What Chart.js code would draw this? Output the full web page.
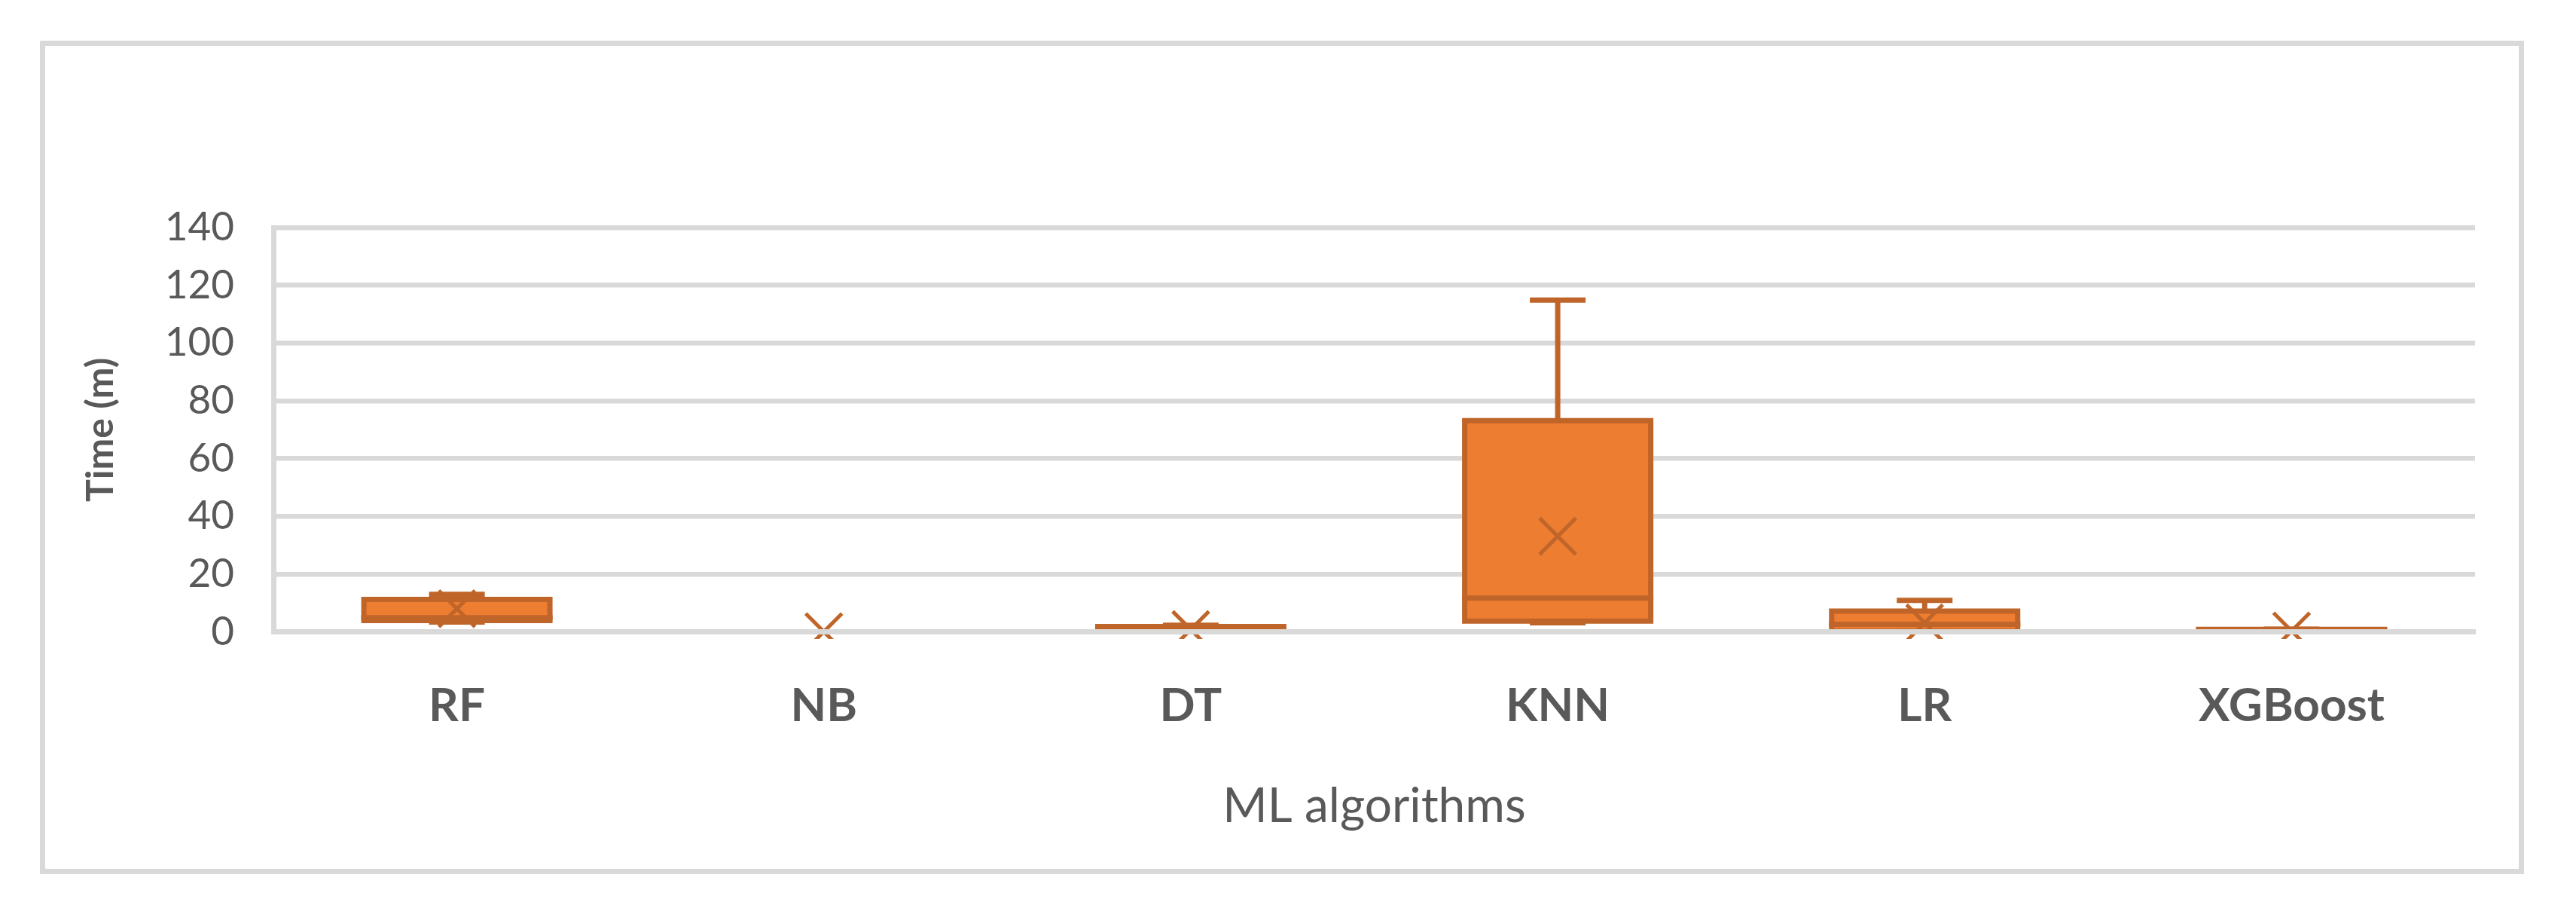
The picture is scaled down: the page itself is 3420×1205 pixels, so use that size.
<!DOCTYPE html>
<html>
<head>
<meta charset="utf-8">
<script src="https://cdn.jsdelivr.net/npm/chart.js@4.4.1/dist/chart.umd.min.js"></script>
<style>
  html, body { margin: 0; padding: 0; background: #ffffff; }
  #wrap { position: relative; width: 3420px; height: 1205px; }
  #c { position: absolute; left: 0; top: 0; }
  #frame { position: absolute; left: 53px; top: 54px; width: 3298px; height: 1106px;
           box-sizing: border-box; border: 7px solid #D9D9D9; pointer-events: none; }
</style>
</head>
<body>
<div id="wrap">
  <canvas id="c" width="3420" height="1205"></canvas>
  <div id="frame"></div>
</div>
<script>
// ---- data ----
const categories = ['RF', 'NB', 'DT', 'KNN', 'LR', 'XGBoost'];
const minVals    = [3.4, 0.0, 0.1, 3.1, 0.1, 0.05];
const q1Vals     = [3.9, 0.01, 0.2, 3.7, 0.2, 0.1];
const medianVals = [4.9, 0.01, 0.4, 11.7, 2.6, 0.2];
const q3Vals     = [11.2, 0.02, 1.8, 73.1, 7.2, 0.85];
const maxVals    = [13.0, 0.03, 2.3, 114.9, 10.9, 0.9];
const meanVals   = [8.0, 0.05, 0.8, 33.1, 3.1, 0.3];
const yTicks     = [0, 20, 40, 60, 80, 100, 120, 140];
const xTitle = 'ML algorithms';
const yTitle = 'Time (m)';

// ---- styles ----
const FILL = '#ED7D31';
const DARK = '#C0652A';
const GRID = '#D9D9D9';
const TEXT = '#595959';
const STROKE = 7;      // box outline / whisker thickness
const BOX_W = 247;     // box width between outline centres

const boxRanges = categories.map((_, i) => [q1Vals[i], q3Vals[i]]);
const whiskerRanges = categories.map((_, i) => [minVals[i], maxVals[i]]);

function shrinkToFit(ctx) {
  const r = ctx.raw;
  if (!r || !ctx.chart.scales.y) return -STROKE / 2;
  const y = ctx.chart.scales.y;
  const h = Math.abs(y.getPixelForValue(r[0]) - y.getPixelForValue(r[1]));
  return -Math.min(STROKE / 2, h / 2);
}

new Chart(document.getElementById('c'), {
  type: 'bar',
  data: {
    labels: categories,
    datasets: [
      { // whisker line
        type: 'bar', data: whiskerRanges, grouped: false, barThickness: STROKE,
        backgroundColor: DARK, borderWidth: 0, inflateAmount: 0, order: 7
      },
      { // box outline (centred stroke)
        type: 'bar', data: boxRanges, grouped: false, barThickness: BOX_W,
        backgroundColor: DARK, borderWidth: 0, inflateAmount: STROKE / 2, order: 6
      },
      { // box fill
        type: 'bar', data: boxRanges, grouped: false, barThickness: BOX_W,
        backgroundColor: FILL, borderWidth: 0, inflateAmount: shrinkToFit, order: 5
      },
      { // median
        type: 'line', data: medianVals, showLine: false, order: 4, clip: false,
        pointStyle: 'line', pointRadius: (BOX_W + STROKE) / 2, pointBorderWidth: STROKE,
        pointBorderColor: DARK, pointBackgroundColor: DARK
      },
      { // max cap
        type: 'line', data: maxVals, showLine: false, order: 3, clip: false,
        pointStyle: 'line', pointRadius: 37, pointBorderWidth: STROKE,
        pointBorderColor: DARK, pointBackgroundColor: DARK
      },
      { // min cap
        type: 'line', data: minVals, showLine: false, order: 3, clip: false,
        pointStyle: 'line', pointRadius: 37, pointBorderWidth: STROKE,
        pointBorderColor: DARK, pointBackgroundColor: DARK
      },
      { // mean marker
        type: 'line', data: meanVals, showLine: false, order: 2,
        clip: { left: 300, right: 300, top: 100, bottom: 9.5 },
        pointStyle: 'crossRot', pointRadius: 34, pointBorderWidth: 5,
        pointBorderColor: DARK, pointBackgroundColor: DARK
      }
    ]
  },
  options: {
    responsive: false,
    devicePixelRatio: 1,
    animation: false,
    events: [],
    layout: { padding: { left: 80, top: 302, right: 124, bottom: 0 } },
    plugins: { legend: { display: false }, tooltip: { enabled: false } },
    scales: {
      x: {
        offset: true,
        grid: { display: false, drawTicks: false },
        border: { display: true, color: GRID, width: 7, z: 1 },
        ticks: {
          color: TEXT, padding: 61, maxRotation: 0, autoSkip: false,
          font: { family: 'Lato', size: 62, weight: 'bold' }
        },
        title: {
          display: true, text: xTitle, color: TEXT,
          font: { family: 'Lato', size: 64, weight: 'normal' },
          padding: { top: 0, bottom: 96 }
        },
        afterFit: (s) => { s.height = 366.5; }
      },
      y: {
        min: 0, max: 140,
        afterBuildTicks: (s) => { s.ticks = yTicks.map(v => ({ value: v })); },
        grid: { color: GRID, lineWidth: 6.5, drawTicks: false },
        border: { display: true, color: GRID, width: 7 },
        ticks: {
          color: TEXT, padding: 52,
          font: { family: 'Lato', size: 53, weight: 'normal' }
        },
        title: {
          display: true, text: yTitle, color: TEXT,
          font: { family: 'Lato', size: 50, weight: 'bold' },
          padding: { top: 24, bottom: 0 }
        },
        afterFit: (s) => { s.width = 283; }
      }
    }
  }
});
</script>
</body>
</html>
